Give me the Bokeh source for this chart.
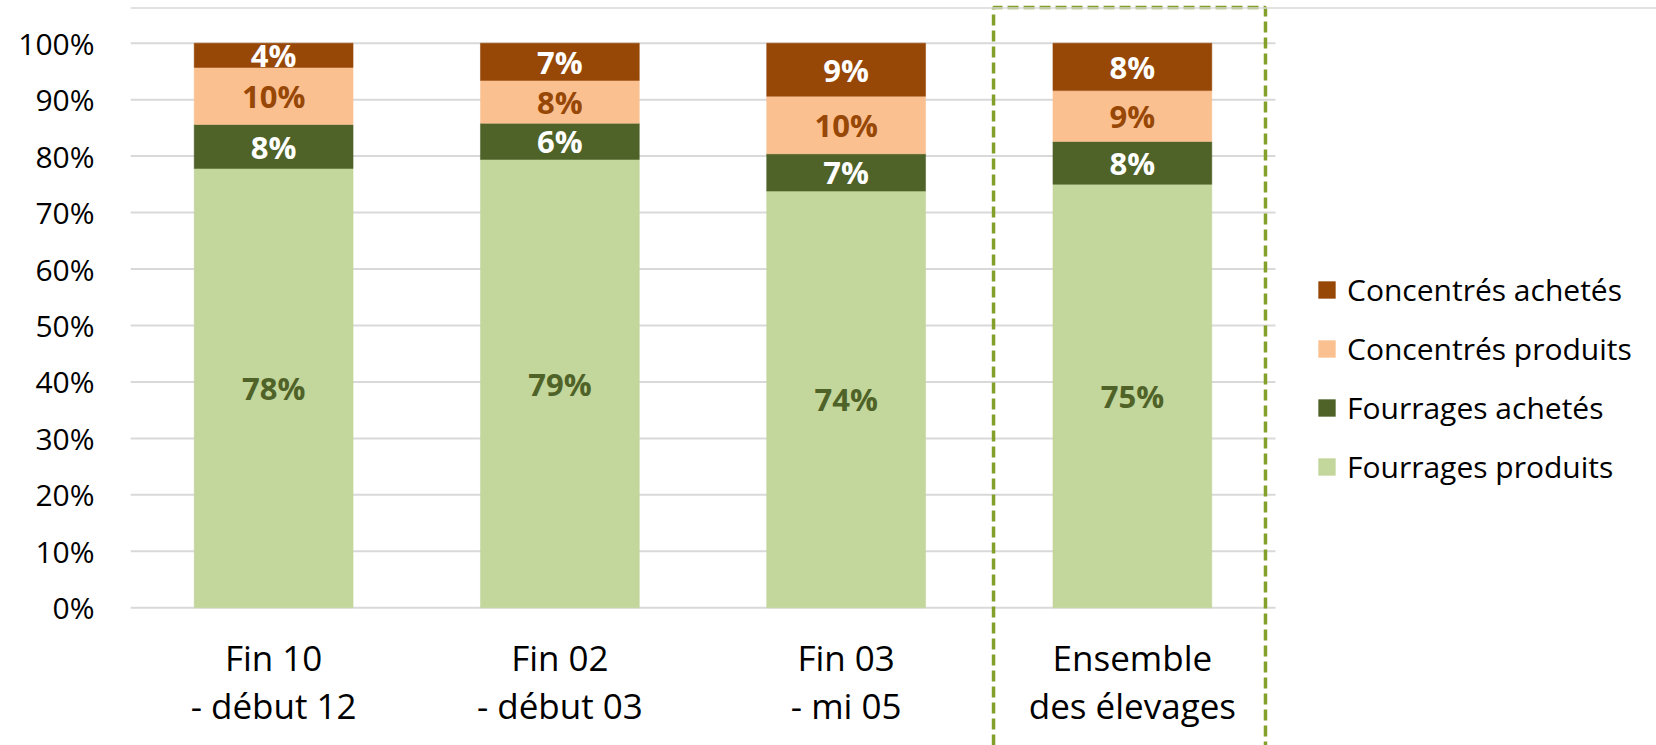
from bokeh.plotting import figure
from bokeh.models import (ColumnDataSource, Range1d, FixedTicker, PrintfTickFormatter,
                          Legend, LegendItem, Span)
from bokeh.core.properties import value
from bokeh.embed import file_html
from bokeh.resources import INLINE

# ---- data ----
categories = ["Fin 10\n- début 12", "Fin 02\n- début 03", "Fin 03\n- mi 05", "Ensemble\ndes élevages"]
series = ["Fourrages produits", "Fourrages achetés", "Concentrés produits", "Concentrés achetés"]
fourrages_produits = [77.8, 79.4, 73.8, 75.0]
fourrages_achetes = [7.8, 6.4, 6.6, 7.6]
concentres_produits = [10.1, 7.6, 10.2, 9.0]
concentres_achetes = [4.3, 6.6, 9.4, 8.4]
y_ticks = [0, 10, 20, 30, 40, 50, 60, 70, 80, 90, 100]
highlight = "Ensemble\ndes élevages"

# ---- style ----
colors = ["#C3D69B", "#4F6228", "#FAC090", "#974706"]
label_colors = ["#4F6228", "#FFFFFF", "#974706", "#FFFFFF"]
FONT = "Open Sans"

W, H = 1656, 745
Y_END = 107.56
Y_START = -24.39
X_END = 5.331

p = figure(width=W, height=H, x_range=Range1d(0, X_END), y_range=Range1d(Y_START, Y_END),
           x_axis_location=None, output_backend="svg", toolbar_location=None,
           min_border_left=130, min_border_right=0, min_border_top=0, min_border_bottom=0)
p.outline_line_color = None
p.xgrid.visible = False
p.ygrid.visible = False

n = len(categories)
xs = [i + 0.5 for i in range(n)]

# gridlines limited to the category area
p.segment(x0=[0] * len(y_ticks), x1=[n] * len(y_ticks), y0=y_ticks, y1=y_ticks,
          line_color="#D9D9D9", line_width=2)

data = {"x": xs}
vals = [fourrages_produits, fourrages_achetes, concentres_produits, concentres_achetes]
for name, v in zip(series, vals):
    data[name] = v
source = ColumnDataSource(data)
renderers = p.vbar_stack(series, x="x", width=0.555, source=source,
                         fill_color=colors, line_color=colors, line_width=0.5)

# data labels
cum = [0.0] * n
for v, lc in zip(vals, label_colors):
    mids = [c + vv / 2 for c, vv in zip(cum, v)]
    cum = [c + vv for c, vv in zip(cum, v)]
    src = ColumnDataSource(dict(x=xs, y=mids, t=[f"{round(vv)}%" for vv in v]))
    p.text(x="x", y="y", text="t", source=src, text_align="center", text_baseline="middle",
           text_color=lc, text_font=value(FONT), text_font_style="bold", text_font_size="31px")

# category labels
p.text(x=xs, y=[0] * n, text=categories, text_align="center", text_baseline="top",
       y_offset=26, text_color="#000000", text_font=value(FONT), text_font_size="35px",
       text_line_height=1.03)

# faint top rule
p.add_layout(Span(location=106.23, dimension="width", line_color="#D9D9D9", line_width=1.5))

# highlighted dashed box around the last category
hi = categories.index(highlight)
bx_l, bx_r = hi + 0.015, hi + 0.965
bx_top = 106.32
p.line(x=[bx_l, bx_l, bx_r, bx_r], y=[Y_START, bx_top, bx_top, Y_START],
       line_color="#82A02A", line_width=3.5, line_dash="11 5")

# y axis
ax = p.yaxis[0]
ax.ticker = FixedTicker(ticks=y_ticks)
ax.formatter = PrintfTickFormatter(format="%d%%")
ax.axis_line_color = None
ax.major_tick_line_color = None
ax.minor_tick_line_color = None
ax.major_tick_out = 0
ax.major_tick_in = 0
ax.major_label_standoff = 36
ax.major_label_text_font = FONT
ax.major_label_text_font_size = "30px"
ax.major_label_text_color = "#000000"

# legend (top-to-bottom reversed stack order)
items = [LegendItem(label=s, renderers=[r]) for s, r in zip(series, renderers)][::-1]
legend = Legend(items=items, location=(1186, 258), orientation="vertical",
                label_text_font=FONT, label_text_font_size="30px", label_text_color="#000000",
                glyph_width=21, glyph_height=21, label_standoff=10, label_height=40,
                spacing=18, padding=0, margin=0, border_line_color=None,
                background_fill_alpha=0)
p.add_layout(legend)

open("out.html", "w").write(file_html(p, INLINE))
